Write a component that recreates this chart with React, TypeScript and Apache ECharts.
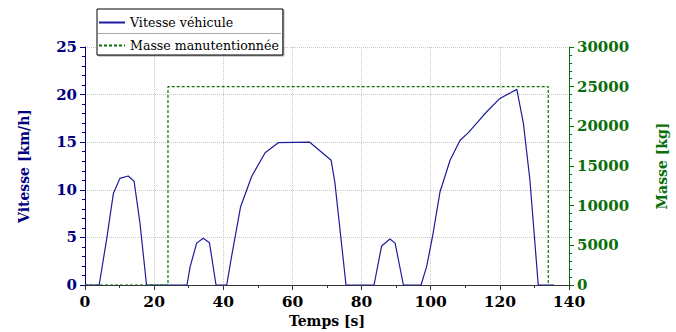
import React, { useEffect, useRef } from "react";
import * as echarts from "echarts";

const speedTimes = [0, 4.1, 6.3, 8.2, 10.1, 12.5, 14.2, 15.9, 17.8, 29.5, 30.4, 32.3, 34.2, 36, 37.9, 41, 42.4, 45, 48.2, 52.1, 55.9, 65, 71.2, 72.3, 75.5, 83.6, 85.8, 88.2, 89.7, 92.1, 97.2, 98.8, 100.6, 102.7, 105.6, 108.5, 110.9, 113.3, 116.2, 120, 124.9, 126.8, 128.7, 131.1, 135.7];
const speedValues = [0, 0, 4.9, 9.6, 11.2, 11.45, 10.9, 6.5, 0, 0, 1.9, 4.4, 4.9, 4.45, 0, 0, 3.0, 8.2, 11.4, 13.9, 14.95, 15, 13.1, 10.7, 0, 0, 4.1, 4.83, 4.4, 0, 0, 1.9, 5.25, 9.8, 13.1, 15.2, 16.0, 17.0, 18.2, 19.6, 20.55, 17.0, 11.0, 0, 0];
const massTimes = [0, 24, 24, 134, 134];
const massValues = [0, 0, 25000, 25000, 0];
const seriesNames = ["Vitesse véhicule", "Masse manutentionnée"];

const FONT = "DejaVu Serif";
const BLUE = "#1c1c9c";
const NAVY = "#000080";
const GREEN = "#0a6e0a";

export default function App() {
  const ref = useRef<HTMLDivElement>(null);
  useEffect(() => {
    const chart = echarts.init(ref.current!, null, { renderer: "svg" });
    const speed = speedTimes.map((t, i) => [t, speedValues[i]]);
    const mass = massTimes.map((t, i) => [t, massValues[i]]);
    const grid = { type: "dotted" as const, color: "#c8c8c8", width: 1 };
    chart.setOption({
      animation: false,
      grid: { left: 85, right: 107, top: 47, bottom: 47, outerBoundsMode: "none", containLabel: false },
      legend: {
        orient: "vertical",
        left: 97,
        top: 9,
        itemWidth: 26,
        itemHeight: 10,
        itemGap: 10,
        padding: [7, 4, 3, 1],
        backgroundColor: "#fff",
        borderColor: "#000",
        borderWidth: 1,
        shadowColor: "rgba(0,0,0,0.35)",
        shadowOffsetX: 1,
        shadowOffsetY: 1,
        itemStyle: { color: "rgba(0,0,0,0)", borderWidth: 0, borderColor: "rgba(0,0,0,0)" },
        textStyle: { fontFamily: FONT, fontSize: 12.6, color: "#000" },
        data: seriesNames,
      },
      graphic: [
        {
          type: "line",
          z: 100,
          shape: { x1: 98, y1: 33.5, x2: 281, y2: 33.5 },
          style: { stroke: "#aaaaaa", lineWidth: 1 },
        },
      ],
      xAxis: {
        type: "value",
        min: 0,
        max: 140,
        interval: 20,
        name: "Temps [s]",
        nameLocation: "middle",
        nameGap: 28,
        nameTextStyle: { fontFamily: FONT, fontSize: 14, fontWeight: "bold", color: "#000" },
        axisLine: { lineStyle: { color: "#333", width: 1 } },
        axisTick: { length: 5, lineStyle: { color: "#333" } },
        minorTick: { show: true, splitNumber: 2, length: 3, lineStyle: { color: "#333" } },
        axisLabel: { fontFamily: FONT, fontSize: 15.5, fontWeight: "bold", color: "#000", margin: 10, lineHeight: 12 },
        splitLine: { show: true, lineStyle: grid },
      },
      yAxis: [
        {
          type: "value",
          min: 0,
          max: 25,
          interval: 5,
          name: "Vitesse [km/h]",
          nameLocation: "middle",
          nameRotate: 90,
          nameGap: 54,
          nameTextStyle: { fontFamily: FONT, fontSize: 14, fontWeight: "bold", color: NAVY },
          axisLine: { show: true, lineStyle: { color: NAVY, width: 1 } },
          axisTick: { show: true, length: 5, lineStyle: { color: NAVY } },
          minorTick: { show: true, splitNumber: 5, length: 3, lineStyle: { color: NAVY } },
          axisLabel: { fontFamily: FONT, fontSize: 15, fontWeight: "bold", color: NAVY, margin: 8, lineHeight: 12 },
          splitLine: { show: true, lineStyle: grid },
        },
        {
          type: "value",
          min: 0,
          max: 30000,
          interval: 5000,
          position: "right",
          name: "Masse [kg]",
          nameLocation: "middle",
          nameRotate: 90,
          nameGap: 86,
          nameTextStyle: { fontFamily: FONT, fontSize: 14, fontWeight: "bold", color: GREEN },
          axisLine: { show: true, lineStyle: { color: GREEN, width: 1 } },
          axisTick: { show: true, length: 5, lineStyle: { color: GREEN } },
          minorTick: { show: true, splitNumber: 5, length: 3, lineStyle: { color: GREEN } },
          axisLabel: {
            fontFamily: FONT,
            fontSize: 15,
            fontWeight: "bold",
            color: GREEN,
            margin: 8,
            lineHeight: 12,
            formatter: (v: number) => String(v),
          },
          splitLine: { show: false },
        },
      ],
      series: [
        {
          name: seriesNames[0],
          type: "line",
          yAxisIndex: 0,
          data: speed,
          showSymbol: false,
          symbol: "none",
          lineStyle: { color: BLUE, width: 1.2 },
          itemStyle: { color: BLUE },
        },
        {
          name: seriesNames[1],
          type: "line",
          yAxisIndex: 1,
          data: mass,
          showSymbol: false,
          symbol: "none",
          lineStyle: { color: GREEN, width: 1.2, type: [3, 2] },
          itemStyle: { color: GREEN },
        },
      ],
    });
    return () => chart.dispose();
  }, []);
  return (
    <div
      ref={ref}
      style={{ position: "fixed", left: 0, top: 0, width: 676, height: 332, background: "#fff" }}
    />
  );
}
